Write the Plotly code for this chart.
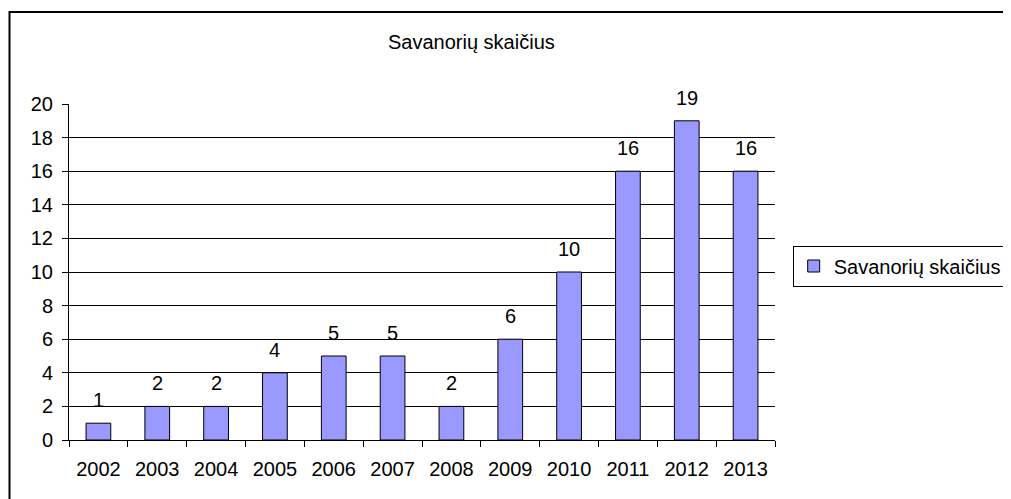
import plotly.graph_objects as go

years = ["2002", "2003", "2004", "2005", "2006", "2007", "2008", "2009", "2010", "2011", "2012", "2013"]
volunteers = [1, 2, 2, 4, 5, 5, 2, 6, 10, 16, 19, 16]
series_name = "Savanorių skaičius"
chart_title = "Savanorių skaičius"
y_ticks = [0, 2, 4, 6, 8, 10, 12, 14, 16, 18, 20]

OFF = 8  # page body margin
W, H = 1011, 499
L, R, T, B = 69 - OFF, 787 - OFF, 104 - OFF, 440 - OFF
pw, ph = R - L, B - T

def px(x):
    return (x - OFF - L) / pw

def py(y):
    return (B - (y - OFF)) / ph

FONT = "Liberation Sans, Arial, sans-serif"
FS = 20

fig = go.Figure()
fig.add_trace(go.Bar(
    x=years, y=volunteers, name=series_name,
    marker=dict(color="#9999FF", line=dict(color="black", width=1)),
    width=0.42, showlegend=True,
))

label_annotations = [
    dict(x=i, y=v, xref="x", yref="y", text=str(v), showarrow=False,
         xanchor="center", yanchor="bottom", yshift=10,
         font=dict(size=FS, color="black", family=FONT))
    for i, v in enumerate(volunteers)
]

fig.update_layout(
    width=W, height=H,
    margin=dict(l=L, r=W - R, t=T, b=H - B),
    paper_bgcolor="white", plot_bgcolor="white",
    font=dict(family=FONT, size=FS, color="black"),
    showlegend=True,
    legend=dict(x=px(805), y=py(266), xanchor="left", yanchor="middle",
                bordercolor="black", borderwidth=1, bgcolor="white",
                font=dict(size=FS, color="black", family=FONT),
                itemwidth=30),
    xaxis=dict(type="category", range=[-0.5, len(years) - 0.5], autorange=False,
               showline=True, linecolor="black", linewidth=1,
               ticks="outside", ticklen=6, tickcolor="black", tickson="boundaries",
               ticklabelstandoff=11, tickangle=0,
               showgrid=False, tickfont=dict(size=FS), fixedrange=True),
    yaxis=dict(range=[0, 20], autorange=False, tickvals=y_ticks, showline=True, linecolor="black", linewidth=1,
               ticks="outside", ticklen=6, tickcolor="black", ticklabelstandoff=5,
               showgrid=True, gridcolor="black", gridwidth=1,
               zeroline=False, tickfont=dict(size=FS), fixedrange=True),
    annotations=label_annotations + [
        dict(text=chart_title, xref="paper", yref="paper",
             x=px(478), y=py(42), xanchor="center", yanchor="middle",
             showarrow=False, font=dict(size=FS, color="black", family=FONT))],
    shapes=[dict(type="rect", xref="paper", yref="paper",
                 x0=px(8.5), x1=px(1100), y0=py(600), y1=py(12),
                 line=dict(color="black", width=2), fillcolor="rgba(0,0,0,0)", layer="below")],
)

fig.write_html("out.html", config={"displayModeBar": False})
